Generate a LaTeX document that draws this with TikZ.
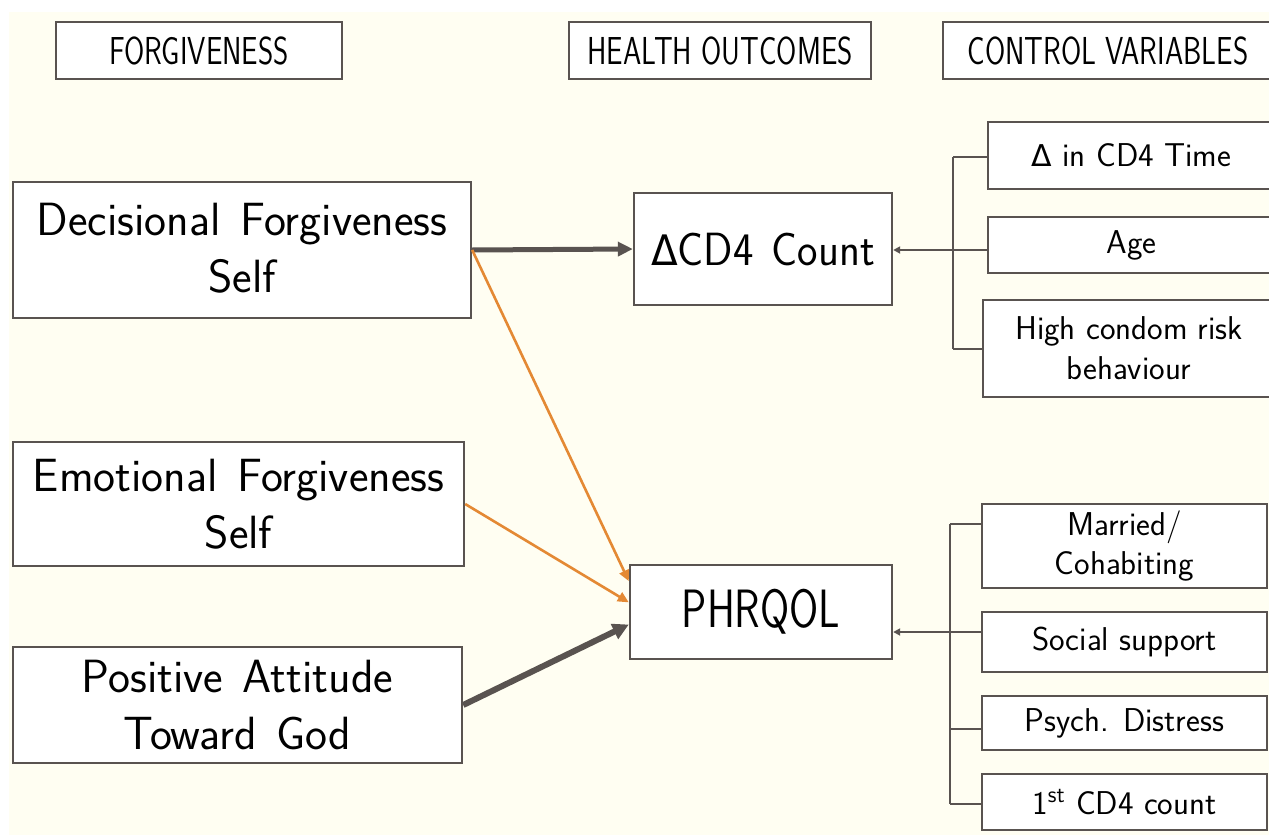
\documentclass[tikz,border=0pt]{standalone}
\usepackage{fontspec}
\newfontfamily\dvs{DejaVu Sans}
\usetikzlibrary{arrows.meta,calc}
\definecolor{cream}{RGB}{255,254,242}
\definecolor{edgec}{RGB}{89,83,80}
\definecolor{orng}{RGB}{228,137,52}
\begin{document}
\begin{tikzpicture}[x=0.5pt,y=-0.5pt,
  box/.style={draw=edgec,line width=1.2pt,fill=white,inner sep=0pt,align=center},
  hdr/.style={box,font={\sffamily\fontsize{19.5}{22}\selectfont}},
  big/.style={box,font={\sffamily\fontsize{23.3}{28.5}\selectfont\spaceskip=0.42em plus 0.1em}},
  ctl/.style={box,font={\sffamily\fontsize{16.5}{20}\selectfont}},
  thick arrow/.style={draw=edgec,line width=2.5pt,-{Triangle[length=7.5pt,width=7pt]}},
  orange arrow/.style={draw=orng,line width=1.3pt,-{Triangle[length=5.5pt,width=5pt]}},
  ctl arrow/.style={draw=edgec,line width=1pt,-{Triangle[length=3.5pt,width=3.5pt]}},
  ctl line/.style={draw=edgec,line width=1pt}]
\useasboundingbox (0,0) rectangle (1269,835);
\fill[white] (0,0) rectangle (1269,835);
\fill[cream] (9,12) rectangle (1269,835);
% headers
\node[hdr,minimum width=143pt,minimum height=28.5pt] (hF) at (199,50.5) {\scalebox{0.75}[1]{FORGIVENESS}};
\node[hdr,minimum width=151pt,minimum height=28.5pt] (hH) at (720,50.5) {\scalebox{0.75}[1]{HEALTH OUTCOMES}};
\node[hdr,minimum width=165pt,minimum height=28.5pt] (hC) at (1108,50.5) {\scalebox{0.75}[1]{CONTROL VARIABLES}};
% forgiveness
\node[big,minimum width=229pt,minimum height=68pt] (dec) at (242,250) {\raisebox{2pt}{\shortstack{Decisional Forgiveness\\[4.5pt]Self}}};
\node[big,minimum width=225.5pt,minimum height=62pt] (emo) at (238.5,504) {Emotional Forgiveness\\Self};
\node[big,minimum width=224.5pt,minimum height=58pt] (pos) at (237.5,705) {Positive Attitude\\Toward God};
% outcomes
\node[big,minimum width=129pt,minimum height=56pt] (cd4) at (763,249) {\scalebox{0.93}[1]{{\dvs\fontsize{21}{25}\selectfont Δ}CD4 Count}};
\node[big,minimum width=131pt,minimum height=47pt] (phr) at (761,612) {\fontsize{27}{30}\selectfont\scalebox{0.78}[1]{PHRQOL}};
% controls (top)
\node[ctl,minimum width=143.5pt,minimum height=33.5pt] (dtime) at (1131.5,155.5) {{\dvs\fontsize{15}{18}\selectfont Δ} in CD4 Time};
\node[ctl,minimum width=143.5pt,minimum height=28pt] (age) at (1131.5,245) {Age};
\node[ctl,minimum width=146pt,minimum height=48.5pt] (hcr) at (1129,348.5) {High condom risk\\behaviour};
% controls (bottom)
\node[ctl,minimum width=142.5pt,minimum height=42pt] (mar) at (1124.5,546) {Married/\\Cohabiting};
\node[ctl,minimum width=142.5pt,minimum height=30pt] (soc) at (1124.5,642) {Social support};
\node[ctl,minimum width=142.5pt,minimum height=27pt] (psy) at (1124.5,723) {Psych. Distress};
\node[ctl,minimum width=142.5pt,minimum height=28pt] (fst) at (1124.5,802) {1\textsuperscript{st} CD4 count};
% bracket coordinates
\coordinate (b1) at (953,250);
\coordinate (b1t) at (953,157);
\coordinate (b1b) at (953,349);
\coordinate (b2) at (950,632);
\coordinate (b2t) at (950,524);
\coordinate (b2p) at (950,729);
\coordinate (b2b) at (950,804);
% main arrows
\draw[thick arrow] (dec.east) -- (cd4.west);
\draw[orange arrow] (dec.east) -- ($(phr.north west)!0.18!(phr.south west)$);
\draw[orange arrow] (emo.east) -- ($(phr.north west)!0.40!(phr.south west)$);
\draw[thick arrow,line width=3pt,-{Triangle[length=8pt,width=8pt]}] (pos.east) -- ($(phr.north west)!0.63!(phr.south west)$);
% top control bracket
\draw[ctl line] (b1t) -- (b1b);
\draw[ctl line] (b1t) -- (b1t -| dtime.west);
\draw[ctl line] (b1) -- (b1 -| age.west);
\draw[ctl line] (b1b) -- (b1b -| hcr.west);
\draw[ctl arrow] (b1) -- (b1 -| cd4.east);
% bottom control bracket
\draw[ctl line] (b2t) -- (b2b);
\draw[ctl line] (b2t) -- (b2t -| mar.west);
\draw[ctl line] (b2) -- (b2 -| soc.west);
\draw[ctl line] (b2p) -- (b2p -| psy.west);
\draw[ctl line] (b2b) -- (b2b -| fst.west);
\draw[ctl arrow] (b2) -- (b2 -| phr.east);
\end{tikzpicture}
\end{document}
